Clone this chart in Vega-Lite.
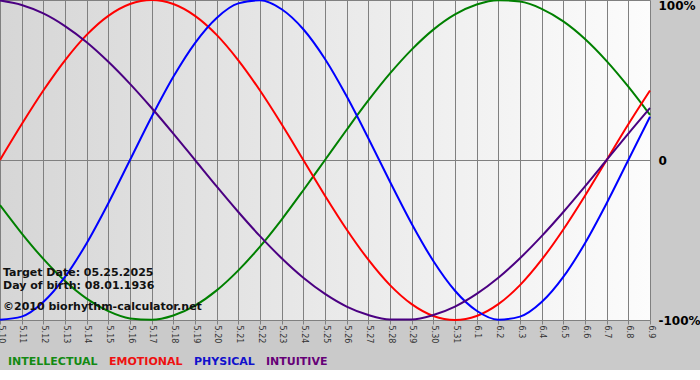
{
  "$schema": "https://vega.github.io/schema/vega-lite/v6.json",
  "width": 650,
  "height": 320,
  "autosize": {"type": "none"},
  "padding": {"left": 0, "top": 0, "right": 50, "bottom": 50},
  "background": "#cacaca",
  "config": {
    "font": "DejaVu Sans",
    "view": {
      "stroke": null,
      "fill": {"gradient": "linear", "x1": 0, "y1": 0, "x2": 1, "y2": 0,
        "stops": [{"offset": 0, "color": "#d6d6d6"}, {"offset": 1, "color": "#fcfcfc"}]}
    }
  },
  "datasets": {
    "curves": [
      {"date": "5.10", "PHYSICAL": -99.8, "EMOTIONAL": 0, "INTELLECTUAL": -28.2, "INTUITIVE": 99.7},
      {"date": "5.11", "PHYSICAL": -97.9, "EMOTIONAL": 22.3, "INTELLECTUAL": -45.8, "INTUITIVE": 96.9},
      {"date": "5.12", "PHYSICAL": -88.8, "EMOTIONAL": 43.4, "INTELLECTUAL": -61.8, "INTUITIVE": 91.6},
      {"date": "5.13", "PHYSICAL": -73.1, "EMOTIONAL": 62.3, "INTELLECTUAL": -75.6, "INTUITIVE": 83.7},
      {"date": "5.14", "PHYSICAL": -52.0, "EMOTIONAL": 78.2, "INTELLECTUAL": -86.6, "INTUITIVE": 73.6},
      {"date": "5.15", "PHYSICAL": -27.0, "EMOTIONAL": 90.1, "INTELLECTUAL": -94.5, "INTUITIVE": 61.4},
      {"date": "5.16", "PHYSICAL": 0, "EMOTIONAL": 97.5, "INTELLECTUAL": -99.0, "INTUITIVE": 47.6},
      {"date": "5.17", "PHYSICAL": 27.0, "EMOTIONAL": 100, "INTELLECTUAL": -99.9, "INTUITIVE": 32.5},
      {"date": "5.18", "PHYSICAL": 52.0, "EMOTIONAL": 97.5, "INTELLECTUAL": -97.2, "INTUITIVE": 16.5},
      {"date": "5.19", "PHYSICAL": 73.1, "EMOTIONAL": 90.1, "INTELLECTUAL": -91.0, "INTUITIVE": 0},
      {"date": "5.20", "PHYSICAL": 88.8, "EMOTIONAL": 78.2, "INTELLECTUAL": -81.5, "INTUITIVE": -16.5},
      {"date": "5.21", "PHYSICAL": 97.9, "EMOTIONAL": 62.3, "INTELLECTUAL": -69.0, "INTUITIVE": -32.5},
      {"date": "5.22", "PHYSICAL": 99.8, "EMOTIONAL": 43.4, "INTELLECTUAL": -54.1, "INTUITIVE": -47.6},
      {"date": "5.23", "PHYSICAL": 94.2, "EMOTIONAL": 22.3, "INTELLECTUAL": -37.2, "INTUITIVE": -61.4},
      {"date": "5.24", "PHYSICAL": 81.7, "EMOTIONAL": 0, "INTELLECTUAL": -18.9, "INTUITIVE": -73.6},
      {"date": "5.25", "PHYSICAL": 63.1, "EMOTIONAL": -22.3, "INTELLECTUAL": 0, "INTUITIVE": -83.7},
      {"date": "5.26", "PHYSICAL": 39.8, "EMOTIONAL": -43.4, "INTELLECTUAL": 18.9, "INTUITIVE": -91.6},
      {"date": "5.27", "PHYSICAL": 13.6, "EMOTIONAL": -62.3, "INTELLECTUAL": 37.2, "INTUITIVE": -96.9},
      {"date": "5.28", "PHYSICAL": -13.6, "EMOTIONAL": -78.2, "INTELLECTUAL": 54.1, "INTUITIVE": -99.7},
      {"date": "5.29", "PHYSICAL": -39.8, "EMOTIONAL": -90.1, "INTELLECTUAL": 69.0, "INTUITIVE": -99.7},
      {"date": "5.30", "PHYSICAL": -63.1, "EMOTIONAL": -97.5, "INTELLECTUAL": 81.5, "INTUITIVE": -96.9},
      {"date": "5.31", "PHYSICAL": -81.7, "EMOTIONAL": -100, "INTELLECTUAL": 91.0, "INTUITIVE": -91.6},
      {"date": "6.1", "PHYSICAL": -94.2, "EMOTIONAL": -97.5, "INTELLECTUAL": 97.2, "INTUITIVE": -83.7},
      {"date": "6.2", "PHYSICAL": -99.8, "EMOTIONAL": -90.1, "INTELLECTUAL": 99.9, "INTUITIVE": -73.6},
      {"date": "6.3", "PHYSICAL": -97.9, "EMOTIONAL": -78.2, "INTELLECTUAL": 99.0, "INTUITIVE": -61.4},
      {"date": "6.4", "PHYSICAL": -88.8, "EMOTIONAL": -62.3, "INTELLECTUAL": 94.5, "INTUITIVE": -47.6},
      {"date": "6.5", "PHYSICAL": -73.1, "EMOTIONAL": -43.4, "INTELLECTUAL": 86.6, "INTUITIVE": -32.5},
      {"date": "6.6", "PHYSICAL": -52.0, "EMOTIONAL": -22.3, "INTELLECTUAL": 75.6, "INTUITIVE": -16.5},
      {"date": "6.7", "PHYSICAL": -27.0, "EMOTIONAL": 0, "INTELLECTUAL": 61.8, "INTUITIVE": 0},
      {"date": "6.8", "PHYSICAL": 0, "EMOTIONAL": 22.3, "INTELLECTUAL": 45.8, "INTUITIVE": 16.5},
      {"date": "6.9", "PHYSICAL": 27.0, "EMOTIONAL": 43.4, "INTELLECTUAL": 28.2, "INTUITIVE": 32.5}
    ],
    "notes": [
      {"date": "5.10", "value": -70.4, "text": "Target Date: 05.25.2025"},
      {"date": "5.10", "value": -78.8, "text": "Day of birth: 08.01.1936"},
      {"date": "5.10", "value": -91.7, "text": "©2010 biorhythm-calculator.net"}
    ]
  },
  "layer": [
    {
      "mark": {"type": "rule", "color": "#800000", "strokeWidth": 2},
      "encoding": {
        "x": {"datum": "5.25", "type": "ordinal"}
      }
    },
    {
      "data": {"name": "curves"},
      "transform": [
        {"fold": ["INTELLECTUAL", "EMOTIONAL", "PHYSICAL", "INTUITIVE"], "as": ["series", "value"]}
      ],
      "mark": {"type": "line", "strokeWidth": 2, "interpolate": "monotone"},
      "encoding": {
        "x": {
          "field": "date", "type": "ordinal", "sort": null,
          "scale": {"type": "point", "padding": 0,
            "domain": ["5.10","5.11","5.12","5.13","5.14","5.15","5.16","5.17","5.18","5.19","5.20","5.21","5.22","5.23","5.24","5.25","5.26","5.27","5.28","5.29","5.30","5.31","6.1","6.2","6.3","6.4","6.5","6.6","6.7","6.8","6.9"]},
          "axis": {
            "title": null, "labelAngle": 90, "labelAlign": "left", "labelBaseline": "middle",
            "labelFontSize": 8, "labelColor": "#333333", "labelPadding": 1,
            "tickSize": 4, "tickColor": "#808080", "domain": false,
            "grid": true, "gridColor": "#808080", "gridOpacity": 1
          }
        },
        "y": {
          "field": "value", "type": "quantitative",
          "scale": {"domain": [-100, 100], "nice": false, "zero": false},
          "axis": {
            "orient": "right", "title": null, "values": [-100, 0, 100],
            "labelExpr": "datum.value == 0 ? '0' : datum.value + '%'",
            "ticks": false, "domain": false, "grid": true, "gridColor": "#808080", "gridOpacity": 1,
            "labelPadding": 8, "labelFontSize": 12, "labelFontWeight": "bold", "labelColor": "#000000",
            "labelAlign": "left", "labelFlush": false,
            "labelBaseline": {"expr": "datum.value == 100 ? 'top' : 'middle'"}
          }
        },
        "color": {
          "field": "series", "type": "nominal",
          "scale": {"domain": ["INTELLECTUAL", "EMOTIONAL", "PHYSICAL", "INTUITIVE"],
            "range": ["#008000", "#ff0000", "#0000ff", "#4b0082"]},
          "legend": {
            "orient": "none", "legendX": -3, "legendY": 356, "direction": "horizontal",
            "title": null, "symbolSize": 0, "symbolOpacity": 0, "symbolStrokeWidth": 0,
            "labelOffset": 0, "columnPadding": -2, "labelLimit": 0,
            "labelFont": "DejaVu Sans", "labelFontSize": 11, "labelFontWeight": "bold",
            "labelColor": {"expr": "datum.value == 'INTELLECTUAL' ? '#138a13' : datum.value == 'EMOTIONAL' ? '#ee1111' : datum.value == 'PHYSICAL' ? '#1111cc' : '#660077'"}
          }
        }
      }
    },
    {
      "data": {"name": "notes"},
      "mark": {"type": "text", "align": "left", "baseline": "middle", "dx": 3,
        "font": "DejaVu Sans", "fontSize": 11, "fontWeight": "bold", "color": "#111111"},
      "encoding": {
        "x": {"field": "date", "type": "ordinal"},
        "y": {"field": "value", "type": "quantitative"},
        "text": {"field": "text"}
      }
    }
  ]
}
